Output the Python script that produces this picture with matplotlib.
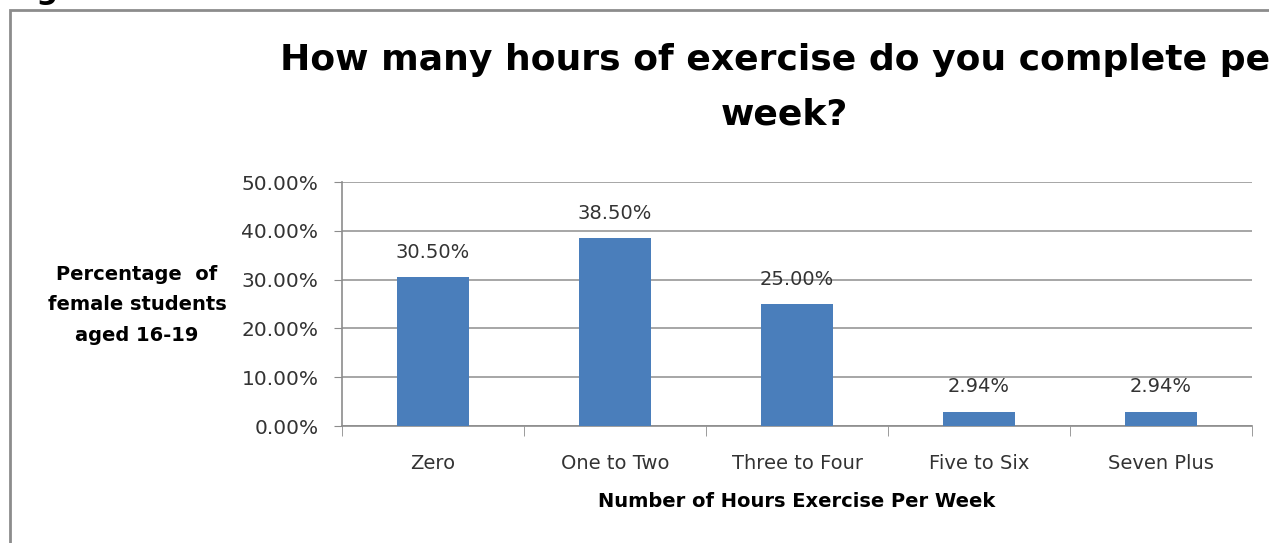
import numpy as np
from matplotlib import pyplot as plt
from matplotlib.patches import Rectangle

categories = ["Zero", "One to Two", "Three to Four", "Five to Six", "Seven Plus"]
percentages = [30.50, 38.50, 25.00, 2.94, 2.94]
y_ticks = [0, 10, 20, 30, 40, 50]

plt.rcParams['font.family'] = ['DejaVu Sans']

fig = plt.figure(figsize=(12.69, 5.43), dpi=100)

# outer chart frame (runs off the right and bottom edge)
fig.patches.append(Rectangle((10 / 1269, -0.05), 1.2, 1 - 10 / 543 + 0.05,
                             transform=fig.transFigure, fill=False,
                             edgecolor='#8c8c8c', linewidth=2))
fig.text(0.004, 0.99, "Fig 5.1", fontsize=22, fontweight='bold', va='bottom')

ax = fig.add_axes([342 / 1269, 1 - 426 / 543, (1252 - 342) / 1269, (426 - 182) / 543])

x = np.arange(len(categories))
bars = ax.bar(x, percentages, width=0.4, color='#4a7ebb', zorder=3)
for xi, v in zip(x, percentages):
    ax.annotate("%.2f%%" % v, (xi, v), xytext=(0, 11), textcoords='offset points',
                ha='center', va='bottom', fontsize=14, color='#333333')

ax.set_xlim(-0.5, len(categories) - 0.5)
ax.set_ylim(0, 50)
ax.set_yticks(y_ticks)
ax.set_yticklabels(["%.2f%%" % t for t in y_ticks], fontsize=14.5, color='#333333')
ax.set_xticks(x)
ax.set_xticklabels(categories, fontsize=14, color='#333333')
ax.set_xticks(np.arange(-0.5, len(categories)), minor=True)
ax.tick_params(axis='x', which='major', length=0, pad=20)
ax.tick_params(axis='x', which='minor', length=7, color='#8c8c8c')
ax.tick_params(axis='y', length=6, color='#8c8c8c', pad=11)
ax.grid(axis='y', color='#a6a6a6', linewidth=1.4, zorder=0)
for s in ['top', 'right']:
    ax.spines[s].set_visible(False)
for s in ['left', 'bottom']:
    ax.spines[s].set_color('#8c8c8c')
    ax.spines[s].set_linewidth(1.2)

ax.set_xlabel("Number of Hours Exercise Per Week", fontsize=14, fontweight='bold', labelpad=14)
fig.text(137 / 1269, 1 - 305 / 543, "Percentage  of\nfemale students\naged 16-19",
         ha='center', va='center', fontsize=14, fontweight='bold', linespacing=1.75)

fig.text(784 / 1269, 1 - 87 / 543, "How many hours of exercise do you complete per\nweek?",
         ha='center', va='center', fontsize=26, fontweight='bold', linespacing=1.75)

fig.savefig("out.png", dpi=100)
